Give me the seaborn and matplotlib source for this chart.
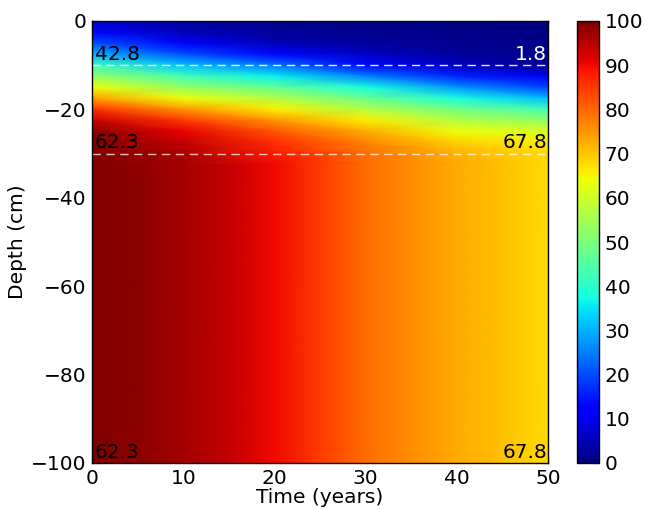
import numpy as np
import matplotlib
matplotlib.use("Agg")
import matplotlib.pyplot as plt
import seaborn as sns

# ---- data ----
times_upper = [0, 10, 20, 30, 40, 50]
depths_upper = [0, -2.5, -5, -7.5, -10, -12.5, -15, -17.5, -20, -22.5, -25, -27.5, -30, -32.5]
profile_t0 = [7, 13, 20, 30, 42.8, 53, 64, 74, 86, 94, 99, 100, 100, 100]
profile_t10 = [3, 5, 11, 20, 32, 43, 53, 64, 75, 85, 91, 94, 96, 96.5]
profile_t20 = [1.5, 2.5, 5, 13, 24, 36, 47, 57, 66, 75, 82, 86, 88, 90]
profile_t30 = [1, 1.5, 3, 6, 13, 25, 38, 48, 57, 66, 73, 77, 79, 79.5]
profile_t40 = [0.5, 1, 1.5, 2.5, 6, 16, 27, 38, 49, 57, 64, 69, 72, 73]
profile_t50 = [0.3, 0.5, 0.8, 1.2, 1.8, 10, 19, 31, 43, 53, 61, 66, 67.8, 67.8]

times_deep = [0, 5, 10, 15, 20, 25, 30, 35, 40, 45, 50]
depths_deep = [-32.5, -100]
deep_values = [100, 98.5, 96.5, 94, 90, 84.5, 79.5, 76, 73, 70.5, 67.8]

line_depths = [-10, -30]
labels_left = ["42.8", "62.3", "62.3"]
labels_right = ["1.8", "67.8", "67.8"]
label_depths = [-10, -30, -100]
label_right_colors = ["white", "black", "black"]

# ---- style ----
sns.set_style("ticks")
FS = 14.5
plt.rcParams.update({
    "font.family": ["DejaVu Sans"],
    "font.size": FS,
    "text.color": "black",
    "axes.labelcolor": "black",
    "xtick.direction": "in",
    "ytick.direction": "in",
    "xtick.top": True,
    "ytick.right": True,
    "xtick.major.size": 5,
    "ytick.major.size": 5,
    "xtick.major.pad": 4,
    "ytick.major.pad": 4,
    "xtick.color": "black",
    "ytick.color": "black",
    "axes.edgecolor": "black",
    "axes.linewidth": 1.0,
    "xtick.labelsize": FS,
    "ytick.labelsize": FS,
    "axes.labelsize": FS,
})

fig = plt.figure(figsize=(6.46, 5.09), dpi=100)
ax = fig.add_axes([92 / 646, 1 - 463 / 509, 456 / 646, 442 / 509])
cax = fig.add_axes([577 / 646, 1 - 463 / 509, 22 / 646, 442 / 509])

upper = np.array([profile_t0, profile_t10, profile_t20, profile_t30,
                  profile_t40, profile_t50]).T
Xu, Yu = np.meshgrid(times_upper, depths_upper)
mesh = ax.pcolormesh(Xu, Yu, upper, cmap="jet", vmin=0, vmax=100,
                     shading="gouraud", rasterized=True)

lower = np.array([deep_values, deep_values])
Xl, Yl = np.meshgrid(times_deep, depths_deep)
ax.pcolormesh(Xl, Yl, lower, cmap="jet", vmin=0, vmax=100,
              shading="gouraud", rasterized=True)

for d in line_depths:
    ax.axhline(d, color="white", lw=1, dashes=(6, 4), alpha=0.9 if d == -10 else 0.75)

for lab_l, lab_r, d, cr in zip(labels_left, labels_right, label_depths, label_right_colors):
    ax.text(0.3, d + 0.3, lab_l, ha="left", va="bottom", color="black", fontsize=FS)
    ax.text(49.9, d + 0.3, lab_r, ha="right", va="bottom", color=cr, fontsize=FS)

ax.set_xlim(0, 50)
ax.set_ylim(-100, 0)
ax.set_xticks(range(0, 51, 10))
ax.set_yticks(range(-100, 1, 20))
ax.set_xlabel("Time (years)", labelpad=0)
ax.set_ylabel("Depth (cm)", labelpad=3)

cb = fig.colorbar(mesh, cax=cax, ticks=range(0, 101, 10))
cb.outline.set_edgecolor("black")
cb.outline.set_linewidth(1.0)
cax.tick_params(direction="in", length=5, right=True, left=False, labelsize=FS,
                colors="black")

fig.savefig("out.png", dpi=100)
